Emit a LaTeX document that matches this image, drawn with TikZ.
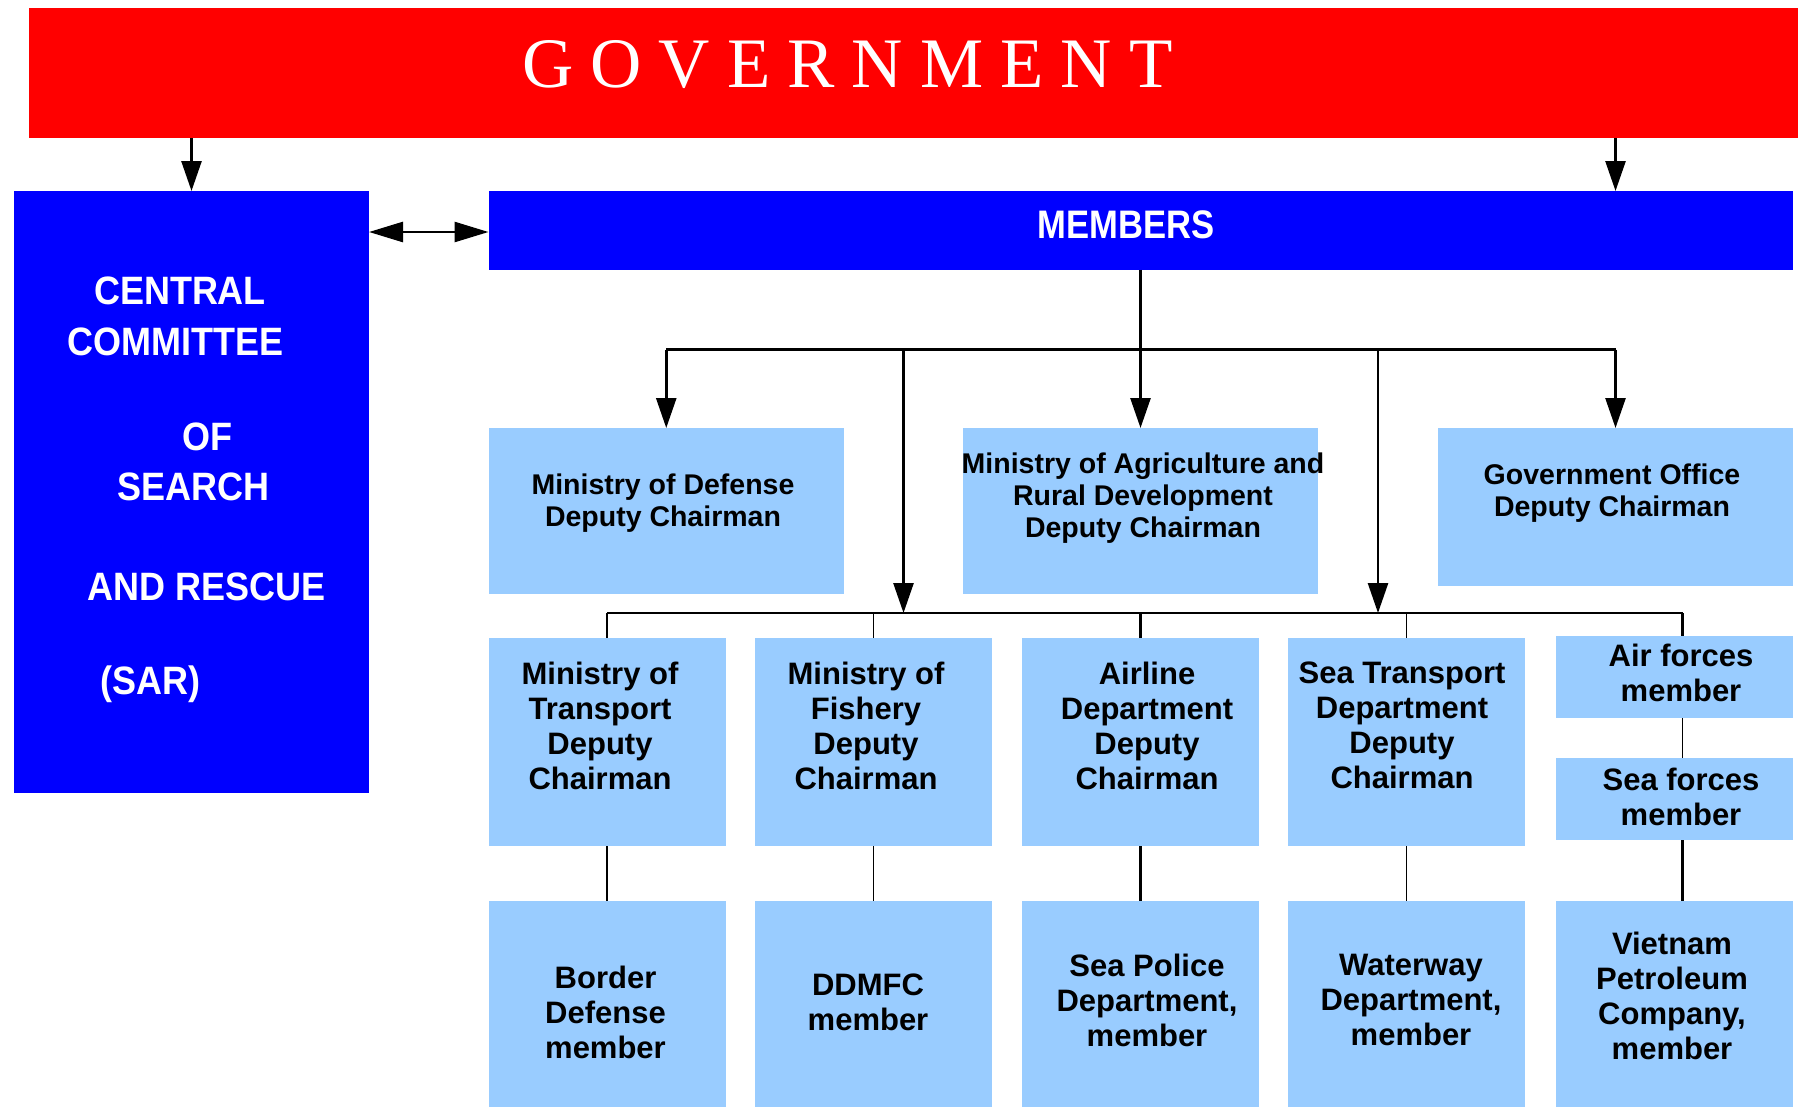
\documentclass[tikz,border=0pt]{standalone}
\usepackage{fontspec}
\usepackage{graphicx}
\setmainfont{Liberation Sans}
\newfontfamily\govfont[LetterSpace=24]{Liberation Serif}
\usetikzlibrary{arrows.meta,calc}

\definecolor{govred}{HTML}{FF0000}
\definecolor{sarblue}{HTML}{0000FF}
\definecolor{paleblue}{HTML}{99CCFF}

\newcommand{\tallword}[1]{\scalebox{1}[1.1]{#1}}

\begin{document}
\begin{tikzpicture}[x=1pt,y=-1pt,
  box/.style={rectangle,inner sep=0pt,outer sep=0pt,draw=none},
  redbox/.style={box,fill=govred},
  bluebox/.style={box,fill=sarblue},
  palebox/.style={box,fill=paleblue},
  wtext/.style={text=white,inner sep=0pt,font=\fontsize{36}{40}\selectfont\bfseries},
  smalltext/.style={align=center,inner sep=0pt,font=\fontsize{28.5}{32}\selectfont\bfseries},
  bigtext/.style={align=center,inner sep=0pt,font=\fontsize{31}{35}\selectfont\bfseries},
  link/.style={line width=2.6pt},
  thinlink/.style={line width=1.8pt},
  arr/.style={link,-{Triangle[length=30pt,width=20pt]}},
  darr/.style={link,{Triangle[length=34pt,width=20pt]}-{Triangle[length=34pt,width=20pt]}}
]
\useasboundingbox (0,0) rectangle (1798,1106);
\clip (0,0) rectangle (1798,1106);

% top level
\node[redbox,minimum width=1769.3pt,minimum height=130pt] (gov) at (913.35,73) {};
\node[anchor=base west,text=white,inner sep=0pt,font=\fontsize{71}{75}\govfont] (govT) at (522,87) {GOVERNMENT};

% committee and members
\node[bluebox,minimum width=355pt,minimum height=602pt] (central) at (191.5,492) {};
\node[bluebox,minimum width=1304.5pt,minimum height=78.5pt] (members) at (1140.75,230.25) {};
\node[anchor=base,text=white,inner sep=0pt,font=\fontsize{34.6}{38}\selectfont\bfseries] (membersT) at (1126,238) {\scalebox{1}[1.15]{MEMBERS}};

\node[wtext,anchor=base] (c1) at (180,304.5) {\tallword{CENTRAL}};
\node[wtext,anchor=base] (c2) at (175.3,355.5) {\tallword{COMMITTEE}};
\node[wtext,anchor=base] (c3) at (207,450) {\tallword{OF}};
\node[wtext,anchor=base] (c4) at (193.7,500) {\tallword{SEARCH}};
\node[wtext,anchor=base] (c5) at (207,600) {\tallword{AND RESCUE}};
\node[wtext,anchor=base] (c6) at (150.5,694) {\tallword{(SAR)}};

% first row
\node[palebox,minimum width=355.5pt,minimum height=166pt] (def) at (666.25,511) {};
\node[palebox,minimum width=355pt,minimum height=166pt] (agri) at (1140.5,511) {};
\node[palebox,minimum width=355pt,minimum height=158pt] (gvo) at (1615.5,507) {};

\node[smalltext] (defT) at (663,503) {Ministry of Defense\\Deputy Chairman};
\node[smalltext] (agriT) at (1143,498) {Ministry of Agriculture and\\Rural Development\\Deputy Chairman};
\node[smalltext] (gvoT) at (1612,493) {Government Office\\Deputy Chairman};

% second row
\node[palebox,minimum width=237pt,minimum height=208pt] (tr) at (607,742) {};
\node[palebox,minimum width=237pt,minimum height=208pt] (fi) at (873.5,742) {};
\node[palebox,minimum width=237pt,minimum height=208pt] (al) at (1140.5,742) {};
\node[palebox,minimum width=237pt,minimum height=208pt] (st) at (1406.5,742) {};
\node[palebox,minimum width=237pt,minimum height=82pt] (af) at (1674.5,677) {};
\node[palebox,minimum width=237pt,minimum height=82pt] (sf) at (1674.5,799) {};

\node[bigtext] (trT) at (600,726) {Ministry of\\Transport\\Deputy\\Chairman};
\node[bigtext] (fiT) at (866,726) {Ministry of\\Fishery\\Deputy\\Chairman};
\node[bigtext] (alT) at (1147,726) {Airline\\Department\\Deputy\\Chairman};
\node[bigtext] (stT) at (1402,725) {Sea Transport\\Department\\Deputy\\Chairman};
\node[bigtext] (afT) at (1681,673) {Air forces\\member};
\node[bigtext] (sfT) at (1681,797) {Sea forces\\member};

% third row
\node[palebox,minimum width=237pt,minimum height=219pt] (bd) at (607,1010.5) {};
\node[palebox,minimum width=237pt,minimum height=219pt] (dd) at (873.5,1010.5) {};
\node[palebox,minimum width=237pt,minimum height=219pt] (sp) at (1140.5,1010.5) {};
\node[palebox,minimum width=237pt,minimum height=219pt] (ww) at (1406.5,1010.5) {};
\node[palebox,minimum width=237pt,minimum height=219pt] (vp) at (1674.5,1010.5) {};

\node[bigtext] (bdT) at (605.5,1012) {Border\\Defense\\member};
\node[bigtext] (ddT) at (868,1002) {DDMFC\\member};
\node[bigtext] (spT) at (1147,1000) {Sea Police\\Department,\\member};
\node[bigtext] (wwT) at (1411,1000) {Waterway\\Department,\\member};
\node[bigtext] (vpT) at (1672,996) {Vietnam\\Petroleum\\Company,\\member};

% connectors
\coordinate (dy) at (0,232);
\coordinate (bus1) at (0,349.5);
\coordinate (bus2) at (0,613);
\coordinate (la) at ($(def.east)!.5!(agri.west)$);
\coordinate (lb) at ($(agri.east)!.5!(gvo.west)$);
\coordinate (fx) at ($(af.north)+(8,0)$);

\draw[arr] (gov.south -| central.north) -- (central.north);
\draw[arr] (gov.south -| gvo.north) -- (members.north -| gvo.north);
\draw[darr] (central.east |- dy) -- (members.west |- dy);

\draw[link] (members.south) -- (members.south |- bus1);
\draw[link] (def.north |- bus1) -- (gvo.north |- bus1);
\draw[arr] (def.north |- bus1) -- (def.north);
\draw[arr] (agri.north |- bus1) -- (agri.north);
\draw[arr] (gvo.north |- bus1) -- (gvo.north);
\draw[arr] (la |- bus1) -- (la |- bus2);
\draw[arr] (lb |- bus1) -- (lb |- bus2);

\draw[link] (tr.north |- bus2) -- (fx |- bus2);
\draw[link] (tr.north |- bus2) -- (tr.north);
\draw[thinlink] (fi.north |- bus2) -- (fi.north);
\draw[link] (al.north |- bus2) -- (al.north);
\draw[thinlink] (st.north |- bus2) -- (st.north);
\draw[link] (fx |- bus2) -- (fx |- af.north);

\draw[link] (tr.south) -- (bd.north);
\draw[thinlink] (fi.south) -- (dd.north);
\draw[link] (al.south) -- (sp.north);
\draw[thinlink] (st.south) -- (ww.north);
\draw[thinlink] (fx |- af.south) -- (fx |- sf.north);
\draw[link] (fx |- sf.south) -- (fx |- vp.north);
\end{tikzpicture}
\end{document}
